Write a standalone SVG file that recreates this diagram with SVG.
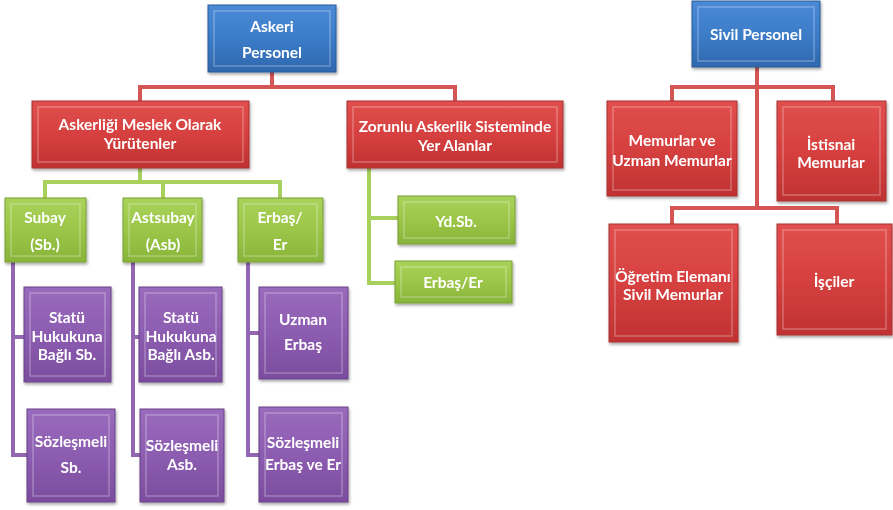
<svg xmlns="http://www.w3.org/2000/svg" width="893" height="510" viewBox="0 0 893 510">
<defs>
<linearGradient id="gBlue" x1="0" y1="0" x2="0" y2="1"><stop offset="0" stop-color="#4a8ad6"/><stop offset="0.5" stop-color="#3c7cc8"/><stop offset="1" stop-color="#2f68ae"/></linearGradient>
<linearGradient id="gRed" x1="0" y1="0" x2="0" y2="1"><stop offset="0" stop-color="#e0504e"/><stop offset="0.5" stop-color="#d6403f"/><stop offset="1" stop-color="#c03232"/></linearGradient>
<linearGradient id="gGreen" x1="0" y1="0" x2="0" y2="1"><stop offset="0" stop-color="#a9d35a"/><stop offset="0.5" stop-color="#9bc648"/><stop offset="1" stop-color="#88b43a"/></linearGradient>
<linearGradient id="gPurple" x1="0" y1="0" x2="0" y2="1"><stop offset="0" stop-color="#9a6bbd"/><stop offset="0.5" stop-color="#8c5cb0"/><stop offset="1" stop-color="#7b4d9e"/></linearGradient>
<filter id="sh" x="-10%" y="-10%" width="130%" height="130%"><feDropShadow dx="1" dy="2" stdDeviation="1.5" flood-color="#000" flood-opacity="0.35"/></filter>
</defs>
<style>
.box{filter:url(#sh);}
.blue{fill:url(#gBlue);stroke:#2a5a96;stroke-width:1;}
.red{fill:url(#gRed);stroke:#a83030;stroke-width:1;}
.green{fill:url(#gGreen);stroke:#7a9f34;stroke-width:1;}
.purple{fill:url(#gPurple);stroke:#6a4088;stroke-width:1;}
.bev{fill:none;stroke:#ffffff;stroke-opacity:0.28;stroke-width:1.5;}
text{font-family:Lato,"Open Sans","Liberation Sans",sans-serif;font-weight:bold;font-size:15.5px;fill:#ffffff;text-anchor:middle;}
.cr{fill:none;stroke:#d45654;stroke-width:4;}
.cg{fill:none;stroke:#a8d05c;stroke-width:4;}
.cp{fill:none;stroke:#9366b4;stroke-width:4;}
</style>
<g id="connectors">
<path class="cr" d="M272 72V87M140 87H455M140 85V101M455 85V101"/>
<path class="cg" d="M140 168V182M45 182H280M45 180V198M163 180V198M280 180V198"/>
<path class="cp" d="M13 262V457M11 337H24M11 455H27M133 262V457M131 337H139M131 455H140M248 262V457M246 333H259M246 455H259"/>
<path class="cg" d="M369 168V285M367 218H398M367 283H395"/>
<path class="cr" d="M757 67V210M672 87H835M672 85V101M833 85V101M672 208H839M672 206V224M837 206V224"/>
</g>
<g id="askeri-personel" class="box"><rect class="blue" x="208" y="5" width="128" height="67"/><rect class="bev" x="214" y="11" width="116" height="55"/><text x="272" y="32">Askeri</text><text x="272" y="58">Personel</text></g>
<g id="askerligi-meslek" class="box"><rect class="red" x="32" y="101" width="217" height="67"/><rect class="bev" x="38" y="107" width="205" height="55"/><text x="140" y="130">Askerliği Meslek Olarak</text><text x="140" y="149">Yürütenler</text></g>
<g id="zorunlu-askerlik" class="box"><rect class="red" x="347" y="101" width="216" height="67"/><rect class="bev" x="353" y="107" width="204" height="55"/><text x="455" y="132">Zorunlu Askerlik Sisteminde</text><text x="455" y="151">Yer Alanlar</text></g>
<g id="subay" class="box"><rect class="green" x="5" y="198" width="81" height="64"/><rect class="bev" x="11" y="204" width="69" height="52"/><text x="45" y="223">Subay</text><text x="45" y="250">(Sb.)</text></g>
<g id="astsubay" class="box"><rect class="green" x="123" y="198" width="79" height="64"/><rect class="bev" x="129" y="204" width="67" height="52"/><text x="163" y="223">Astsubay</text><text x="163" y="250">(Asb)</text></g>
<g id="erbas-er" class="box"><rect class="green" x="238" y="198" width="85" height="64"/><rect class="bev" x="244" y="204" width="73" height="52"/><text x="280" y="223">Erbaş/</text><text x="280" y="250">Er</text></g>
<g id="statu-sb" class="box"><rect class="purple" x="24" y="287" width="87" height="95"/><rect class="bev" x="30" y="293" width="75" height="83"/><text x="67" y="323">Statü</text><text x="67" y="342">Hukukuna</text><text x="67" y="360">Bağlı Sb.</text></g>
<g id="sozlesmeli-sb" class="box"><rect class="purple" x="27" y="409" width="88" height="93"/><rect class="bev" x="33" y="415" width="76" height="81"/><text x="71" y="447">Sözleşmeli</text><text x="71" y="473">Sb.</text></g>
<g id="statu-asb" class="box"><rect class="purple" x="139" y="287" width="83" height="95"/><rect class="bev" x="145" y="293" width="71" height="83"/><text x="181" y="323">Statü</text><text x="181" y="342">Hukukuna</text><text x="181" y="360">Bağlı Asb.</text></g>
<g id="sozlesmeli-asb" class="box"><rect class="purple" x="140" y="409" width="84" height="93"/><rect class="bev" x="146" y="415" width="72" height="81"/><text x="182" y="451">Sözleşmeli</text><text x="182" y="470">Asb.</text></g>
<g id="uzman-erbas" class="box"><rect class="purple" x="259" y="287" width="89" height="92"/><rect class="bev" x="265" y="293" width="77" height="80"/><text x="303" y="325">Uzman</text><text x="303" y="350">Erbaş</text></g>
<g id="sozlesmeli-erbas" class="box"><rect class="purple" x="259" y="407" width="89" height="95"/><rect class="bev" x="265" y="413" width="77" height="83"/><text x="303" y="448">Sözleşmeli</text><text x="303" y="470">Erbaş ve Er</text></g>
<g id="yd-sb" class="box"><rect class="green" x="398" y="196" width="117" height="48"/><rect class="bev" x="404" y="202" width="105" height="36"/><text x="456" y="227">Yd.Sb.</text></g>
<g id="erbas-er-2" class="box"><rect class="green" x="395" y="261" width="117" height="42"/><rect class="bev" x="401" y="267" width="105" height="30"/><text x="453" y="288">Erbaş/Er</text></g>
<g id="sivil-personel" class="box"><rect class="blue" x="692" y="1" width="128" height="66"/><rect class="bev" x="698" y="7" width="116" height="54"/><text x="756" y="40">Sivil Personel</text></g>
<g id="memurlar-uzman" class="box"><rect class="red" x="607" y="101" width="130" height="95"/><rect class="bev" x="613" y="107" width="118" height="83"/><text x="672" y="146">Memurlar ve</text><text x="672" y="166">Uzman Memurlar</text></g>
<g id="istisnai-memurlar" class="box"><rect class="red" x="777" y="101" width="109" height="100"/><rect class="bev" x="783" y="107" width="97" height="88"/><text x="831" y="150">İstisnai</text><text x="831" y="168">Memurlar</text></g>
<g id="ogretim-elemani" class="box"><rect class="red" x="609" y="224" width="129" height="118"/><rect class="bev" x="615" y="230" width="117" height="106"/><text x="673" y="282">Öğretim Elemanı</text><text x="673" y="300">Sivil Memurlar</text></g>
<g id="isciler" class="box"><rect class="red" x="777" y="224" width="115" height="111"/><rect class="bev" x="783" y="230" width="103" height="99"/><text x="834" y="287">İşçiler</text></g>
</svg>
